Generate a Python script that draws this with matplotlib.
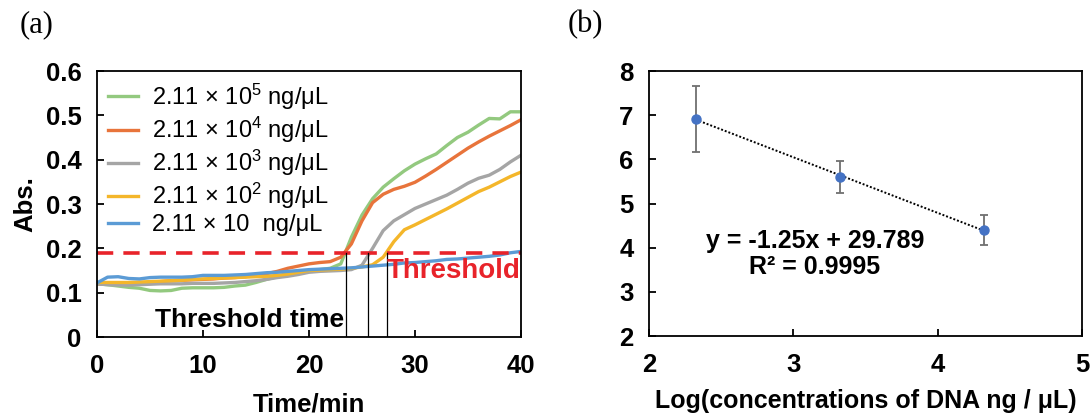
import numpy as np
import matplotlib
matplotlib.use("Agg")
import matplotlib.pyplot as plt
from matplotlib.ticker import FuncFormatter

plt.rcParams['font.family'] = ['Liberation Sans', 'DejaVu Sans']
plt.rcParams['mathtext.fontset'] = 'custom'
plt.rcParams['mathtext.rm'] = 'Liberation Sans'
plt.rcParams['mathtext.default'] = 'regular'

# ---- panel (a) data: absorbance vs time ----
time_min = list(range(0, 41))

abs_1e5 = [0.120, 0.118, 0.115, 0.112, 0.110, 0.105, 0.104, 0.105, 0.110, 0.111,
           0.111, 0.111, 0.112, 0.115, 0.117, 0.123, 0.130, 0.136, 0.142, 0.146,
           0.150, 0.152, 0.155, 0.165, 0.225, 0.275, 0.312, 0.338, 0.357, 0.375,
           0.390, 0.402, 0.413, 0.432, 0.450, 0.462, 0.478, 0.493, 0.492, 0.508, 0.508]
abs_1e4 = [0.120, 0.120, 0.120, 0.120, 0.121, 0.123, 0.125, 0.127, 0.128, 0.129,
           0.130, 0.131, 0.133, 0.134, 0.136, 0.140, 0.143, 0.148, 0.155, 0.160,
           0.165, 0.168, 0.170, 0.180, 0.210, 0.262, 0.303, 0.322, 0.333, 0.340,
           0.349, 0.363, 0.378, 0.394, 0.410, 0.426, 0.440, 0.453, 0.465, 0.477, 0.490]
abs_1e3 = [0.120, 0.118, 0.117, 0.117, 0.118, 0.119, 0.120, 0.120, 0.120, 0.121,
           0.121, 0.121, 0.122, 0.123, 0.125, 0.127, 0.130, 0.134, 0.137, 0.141,
           0.146, 0.148, 0.149, 0.150, 0.152, 0.162, 0.200, 0.240, 0.262, 0.276,
           0.290, 0.300, 0.310, 0.320, 0.333, 0.347, 0.358, 0.365, 0.378, 0.395, 0.410]
abs_1e2 = [0.123, 0.123, 0.123, 0.123, 0.124, 0.125, 0.126, 0.127, 0.128, 0.130,
           0.131, 0.132, 0.133, 0.134, 0.135, 0.136, 0.137, 0.139, 0.142, 0.146,
           0.150, 0.151, 0.152, 0.153, 0.155, 0.158, 0.163, 0.180, 0.215, 0.242,
           0.253, 0.265, 0.277, 0.289, 0.302, 0.315, 0.328, 0.338, 0.350, 0.362, 0.372]
abs_1e1 = [0.122, 0.135, 0.136, 0.132, 0.131, 0.134, 0.135, 0.135, 0.135, 0.136,
           0.139, 0.139, 0.139, 0.140, 0.141, 0.143, 0.145, 0.146, 0.148, 0.150,
           0.152, 0.153, 0.154, 0.155, 0.156, 0.158, 0.160, 0.162, 0.164, 0.167,
           0.168, 0.170, 0.172, 0.175, 0.176, 0.178, 0.180, 0.182, 0.185, 0.190, 0.193]

series_labels = ["2.11 × 10$^{5}$ ng/μL", "2.11 × 10$^{4}$ ng/μL",
                 "2.11 × 10$^{3}$ ng/μL", "2.11 × 10$^{2}$ ng/μL",
                 "2.11 × 10  ng/μL"]
series_colors = ["#93C97F", "#E8743B", "#A5A5A5", "#F4B62A", "#5B9BD5"]

threshold = 0.19
threshold_times = [23.5, 25.6, 27.4]

# ---- panel (b) data: threshold time vs log concentration ----
log_conc = [2.324, 3.324, 4.324]
t_mean = [6.92, 5.60, 4.40]
t_err = [0.75, 0.36, 0.34]

TICK_FS = 18.5
LABEL_FS = 18.5


def style_axes(ax):
    for s in ax.spines.values():
        s.set_linewidth(1.3)
    ax.tick_params(direction='in', length=5, width=1.3, labelsize=TICK_FS,
                   top=False, right=False)
    ax.tick_params(axis='y', pad=11)
    ax.tick_params(axis='x', pad=12)
    for lbl in ax.get_xticklabels() + ax.get_yticklabels():
        lbl.set_fontweight('bold')


fig = plt.figure(figsize=(10.92, 4.16), dpi=100)

# (a)
ax1 = fig.add_axes([0.0888, 0.1899, 0.3883, 0.6394])
data = [abs_1e5, abs_1e4, abs_1e3, abs_1e2, abs_1e1]
for y, lab, c in zip(data, series_labels, series_colors):
    ax1.plot(time_min, y, color=c, lw=2.4, label=lab)
ax1.plot([0, 40], [threshold, threshold], color='#E8232A', lw=2.6,
         linestyle=(0, (4.5, 2.8)))
for tt in threshold_times:
    ax1.plot([tt, tt], [0, threshold], color='black', lw=0.9)
ax1.set_xlim(0, 40)
ax1.set_ylim(0, 0.6)
ax1.set_xticks([0, 10, 20, 30, 40])
ax1.set_yticks(np.arange(0, 0.61, 0.1))
ax1.yaxis.set_major_formatter(FuncFormatter(lambda v, p: "0" if abs(v) < 1e-9 else f"{v:.1f}"))
style_axes(ax1)
ax1.set_xlabel("Time/min", fontsize=LABEL_FS, fontweight='bold', labelpad=11)
ax1.set_ylabel("Abs.", fontsize=LABEL_FS, fontweight='bold', labelpad=6)
ax1.text(40, 0.149, "Threshold", color='#E8232A', fontsize=20, fontweight='bold',
         ha='right', va='center')
ax1.text(23.3, 0.038, "Threshold time", fontsize=19, fontweight='bold',
         ha='right', va='center')
ax1.legend(loc='upper left', frameon=False, fontsize=17, handlelength=1.3,
           handletextpad=0.6, labelspacing=0.12, borderaxespad=0.15,
           borderpad=0.3)

# (b)
ax2 = fig.add_axes([0.5943, 0.1923, 0.3965, 0.637])
ax2.errorbar(log_conc, t_mean, yerr=t_err, fmt='o', color='#4472C4', ms=6.5,
             ecolor='#707070', elinewidth=1.3, capsize=3, capthick=1.3, zorder=3)
k, b = np.polyfit(log_conc, t_mean, 1)
xs = np.array([log_conc[0], log_conc[-1]])
ax2.plot(xs, k * xs + b, color='black', lw=1.4, linestyle=(0, (1, 1)), zorder=2)
ax2.set_xlim(2, 5)
ax2.set_ylim(2, 8)
ax2.set_xticks([2, 3, 4, 5])
ax2.set_yticks([2, 3, 4, 5, 6, 7, 8])
style_axes(ax2)
ax2.set_xlabel("Log(concentrations of DNA ng / μL)", fontsize=18,
               fontweight='bold', labelpad=9)
ax2.text(3.15, 3.85, "y = -1.25x + 29.789\nR² = 0.9995", fontsize=18,
         fontweight='bold', ha='center', va='center', multialignment='center',
         linespacing=1.12)

fig.text(0.018, 0.94, "(a)", fontsize=22, family='Liberation Serif', va='center')
fig.text(0.520, 0.94, "(b)", fontsize=22, family='Liberation Serif', va='center')

fig.savefig("out.png", dpi=100)
